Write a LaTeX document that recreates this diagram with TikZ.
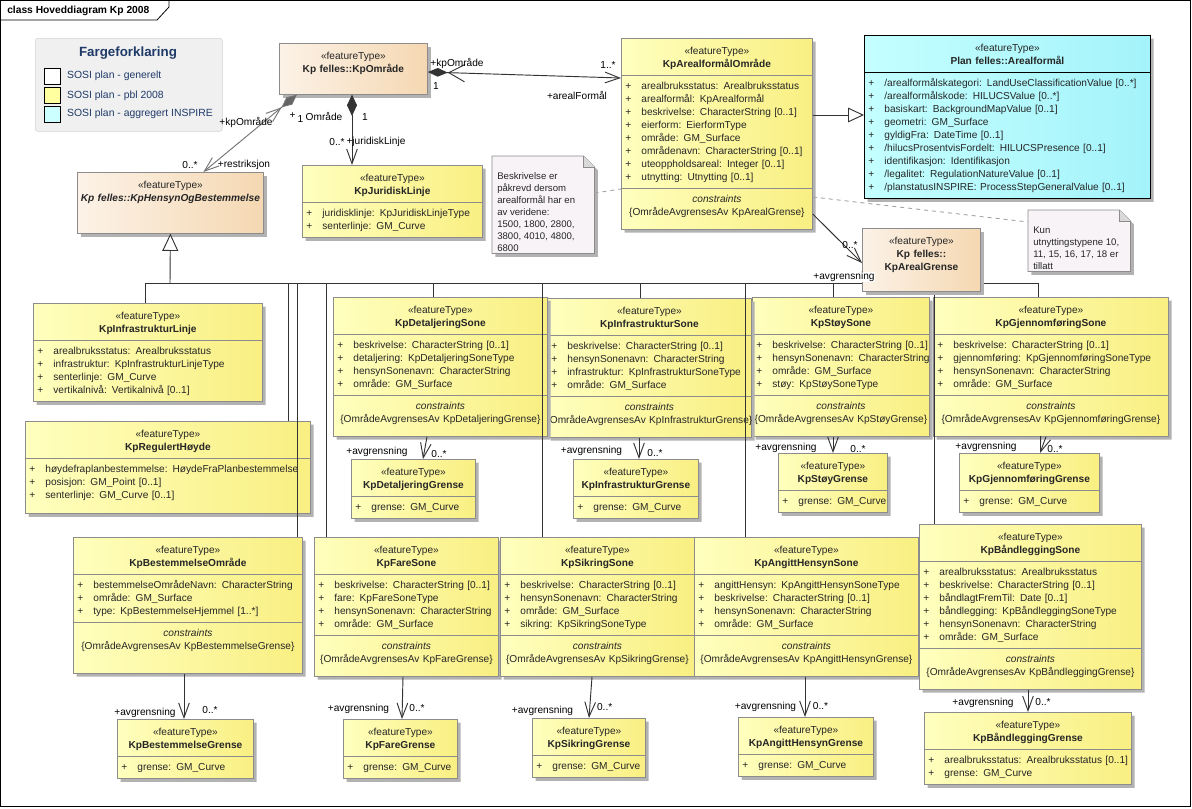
\documentclass[tikz,border=0pt]{standalone}
\usepackage{fontspec}
\setmainfont{Liberation Sans}
\usetikzlibrary{positioning, calc, arrows.meta, shapes.multipart, shadows}

\definecolor{yelL}{HTML}{FFFFBE}
\definecolor{yelR}{HTML}{F9EF82}
\definecolor{peaL}{HTML}{FCF2E7}
\definecolor{peaR}{HTML}{F5D8B2}
\definecolor{cyaL}{HTML}{C4FFFF}
\definecolor{cyaR}{HTML}{A4F3FA}
\definecolor{boxline}{HTML}{8C8C8C}
\definecolor{legnavy}{HTML}{1F3A68}
\definecolor{legyel}{HTML}{FFFFA0}
\definecolor{legcya}{HTML}{CCFFFF}
\definecolor{notefill}{HTML}{F7F3F7}

% class compartments
\newcommand{\ctrline}[1]{\makebox[\linewidth]{#1}}
\newcommand{\hd}[1]{\rule{0pt}{8.5pt}\ctrline{«featureType»}\par\ctrline{\bfseries #1}\rule[-3.2pt]{0pt}{3.2pt}}
\newcommand{\attrib}[1]{\strut\makebox[12pt][l]{+}\mbox{#1}\par}
\newcommand{\cons}[2][7.4pt]{\strut\ctrline{\itshape constraints}\par\ctrline{\{#2\}}\rule[-#1]{0pt}{#1}}
\newcommand{\padd}[1]{\rule[-#1]{0pt}{#1}}

\tikzset{
  uml/.style={rectangle split, rectangle split parts=#1, anchor=north west,
    draw=boxline, line width=0.6pt, inner xsep=3pt, inner ysep=3pt, align=left,
    text=black!85, font=\fontsize{7.6}{9.75}\selectfont,
    left color=yelL, right color=yelR,
    drop shadow={shadow xshift=2.5pt, shadow yshift=-2.5pt, fill=black!30, opacity=1}},
  felles/.style={uml=1, left color=peaL, right color=peaR},
  inspire/.style={uml=2, left color=cyaL, right color=cyaR, draw=black},
  conn/.style={draw=black!80, line width=0.7pt},
  assoc/.style={conn, -{Straight Barb[length=11pt,width=8pt]}},
  genarr/.style={conn, -{Triangle[length=13pt,width=12pt,fill=white]}},
  notelink/.style={draw=black!35, dashed, line width=0.7pt},
  lbl/.style={font=\fontsize{7.6}{9}\selectfont, inner sep=0.5pt},
  lblw/.style={lbl, fill=white},
  legend/.style={anchor=north west, minimum width=140.25pt, minimum height=69.75pt,
    rounded corners=2pt, fill=black!6, draw=black!18},
  legsq/.style={draw=black, line width=0.6pt, minimum size=12pt, inner sep=0pt},
  legtxt/.style={text=legnavy, font=\fontsize{7.8}{9}\selectfont, inner sep=2.5pt},
  notearea/.style={anchor=north west, inner sep=0pt},
  notebox/.style={draw=black!45, fill=notefill, line width=0.6pt,
    drop shadow={shadow xshift=2.5pt, shadow yshift=-2.5pt, fill=black!30, opacity=1}},
  notefold/.style={draw=black!45, fill=black!15, line width=0.6pt},
  notetext/.style={anchor=north west, align=left, inner sep=0pt,
    font=\fontsize{7.2}{9}\selectfont, text=black!85}
}

\begin{document}
\begin{tikzpicture}[x=0.75pt, y=-0.75pt]
    \useasboundingbox (0,0) rectangle (1192,808);

    % frame
    \draw[line width=0.6pt] (0.5,0.5) rectangle (1190.5,806.5);
    \draw[line width=0.6pt] (0.5,20) -- (157,20) -- (169,7) -- (169,0.5);
    \node[anchor=west, inner sep=0pt, font=\bfseries\fontsize{7.7}{9}\selectfont] (title) at (7,10.5) {class Hoveddiagram Kp 2008};

    % legend
    \node[legend] (legend) at (35,38) {};
    \node[font=\bfseries\fontsize{10}{12}\selectfont, text=legnavy] (legtitle) at (128,53) {Fargeforklaring};
    \node[legsq, fill=white] (sq1) at (52.5,76.3) {};
    \node[legsq, fill=legyel] (sq2) at (52.5,95.7) {};
    \node[legsq, fill=legcya] (sq3) at (52.5,114.2) {};
    \node[legtxt, right=2pt of sq1] (leg1) {SOSI plan - generelt};
    \node[legtxt, right=2pt of sq2] (leg2) {SOSI plan - pbl 2008};
    \node[legtxt, right=2pt of sq3] (leg3) {SOSI plan - aggregert INSPIRE};

    % top classes
    \node[felles, text width=105pt] (omr) at (279,43) {\hd{Kp felles::KpOmråde}\padd{13.25pt}};
    \node[felles, text width=133.5pt] (hensyn) at (77,172) {\hd{\itshape Kp felles::KpHensynOgBestemmelse}\padd{20.75pt}};
    \node[uml=2, text width=129pt] (jur) at (302,165) {\hd{KpJuridiskLinje}
        \nodepart{second}\attrib{juridisklinje: KpJuridiskLinjeType}\attrib{senterlinje: GM\_Curve}};
    \node[uml=3, text width=137.25pt] (arealOmr) at (621,38) {\hd{KpArealformålOmråde}
        \nodepart{second}\attrib{arealbruksstatus: Arealbruksstatus}\attrib{arealformål: KpArealformål}%
        \attrib{beskrivelse: CharacterString [0..1]}\attrib{eierform: EierformType}\attrib{område: GM\_Surface}%
        \attrib{områdenavn: CharacterString [0..1]}\attrib{uteoppholdsareal: Integer [0..1]}\attrib{utnytting: Utnytting [0..1]}
        \nodepart{third}\cons{OmrådeAvgrensesAv KpArealGrense}};
    \node[inspire, text width=208.5pt] (planAreal) at (864,35) {\hd{Plan felles::Arealformål}
        \nodepart{second}\attrib{/arealformålskategori: LandUseClassificationValue [0..*]}%
        \attrib{/arealformålskode: HILUCSValue [0..*]}\attrib{basiskart: BackgroundMapValue [0..1]}%
        \attrib{geometri: GM\_Surface}\attrib{gyldigFra: DateTime [0..1]}%
        \attrib{/hilucsProsentvisFordelt: HILUCSPresence [0..1]}\attrib{identifikasjon: Identifikasjon}%
        \attrib{/legalitet: RegulationNatureValue [0..1]}\attrib{/planstatusINSPIRE: ProcessStepGeneralValue [0..1]}};

    % notes
    \node[notearea, minimum width=76.5pt, minimum height=72.75pt] (note1) at (492,156) {};
    \draw[notebox] (note1.south west) |- ($(note1.north east)+(-11,0)$) -- ($(note1.north east)+(0,11)$) -- (note1.south east) -- cycle;
    \draw[notefold] ($(note1.north east)+(-11,0)$) |- ($(note1.north east)+(0,11)$);
    \node[notetext] (note1txt) at ($(note1.north west)+(5,15)$) {\strut Beskrivelse er\\påkrevd dersom\\arealformål har en\\av veridene:\\1500, 1800, 2800,\\3800, 4010, 4800,\\6800};

    \node[notearea, minimum width=76.5pt, minimum height=45.75pt] (note2) at (1028,210) {};
    \draw[notebox] (note2.south west) |- ($(note2.north east)+(-11,0)$) -- ($(note2.north east)+(0,11)$) -- (note2.south east) -- cycle;
    \draw[notefold] ($(note2.north east)+(-11,0)$) |- ($(note2.north east)+(0,11)$);
    \node[notetext] (note2txt) at ($(note2.north west)+(5,15)$) {\strut Kun\\utnyttingstypene 10,\\11, 15, 16, 17, 18 er\\tillatt};

    % middle row
    \node[uml=3, text width=170.25pt] (gjenSone) at (933,297) {\hd{KpGjennomføringSone}
        \nodepart{second}\attrib{beskrivelse: CharacterString [0..1]}\attrib{gjennomføring: KpGjennomføringSoneType}%
        \attrib{hensynSonenavn: CharacterString}\attrib{område: GM\_Surface}
        \nodepart{third}\cons{OmrådeAvgrensesAv KpGjennomføringGrense}};
    \node[uml=3, text width=126.75pt] (stoySone) at (752,297) {\hd{KpStøySone}
        \nodepart{second}\attrib{beskrivelse: CharacterString [0..1]}\attrib{hensynSonenavn: CharacterString}%
        \attrib{område: GM\_Surface}\attrib{støy: KpStøySoneType}
        \nodepart{third}\cons{OmrådeAvgrensesAv KpStøyGrense}};
    \node[uml=3, text width=147pt] (infSone) at (547,298) {\hd{KpInfrastrukturSone}
        \nodepart{second}\attrib{beskrivelse: CharacterString [0..1]}\attrib{hensynSonenavn: CharacterString}%
        \attrib{infrastruktur: KpInfrastrukturSoneType}\attrib{område: GM\_Surface}
        \nodepart{third}\cons{OmrådeAvgrensesAv KpInfrastrukturGrense}};
    \node[uml=3, text width=154.5pt] (detSone) at (333,297) {\hd{KpDetaljeringSone}
        \nodepart{second}\attrib{beskrivelse: CharacterString [0..1]}\attrib{detaljering: KpDetaljeringSoneType}%
        \attrib{hensynSonenavn: CharacterString}\attrib{område: GM\_Surface}
        \nodepart{third}\cons{OmrådeAvgrensesAv KpDetaljeringGrense}};
    \node[uml=2, text width=165.75pt] (infLinje) at (33,303) {\hd{KpInfrastrukturLinje}
        \nodepart{second}\attrib{arealbruksstatus: Arealbruksstatus}\attrib{infrastruktur: KpInfrastrukturLinjeType}%
        \attrib{senterlinje: GM\_Curve}\attrib{vertikalnivå: Vertikalnivå [0..1]}};
    \node[uml=2, text width=207.75pt] (regHoyde) at (25,421) {\hd{KpRegulertHøyde}
        \nodepart{second}\attrib{høydefraplanbestemmelse: HøydeFraPlanbestemmelse}\attrib{posisjon: GM\_Point [0..1]}%
        \attrib{senterlinje: GM\_Curve [0..1]\padd{8.2pt}}};

    \node[uml=2, text width=87pt] (detGrense) at (351,459) {\hd{KpDetaljeringGrense}\nodepart{second}\attrib{grense: GM\_Curve}};
    \node[uml=2, text width=87.75pt] (infGrense) at (573,459) {\hd{KpInfrastrukturGrense}\nodepart{second}\attrib{grense: GM\_Curve}};
    \node[uml=2, text width=75.75pt] (stoyGrense) at (778,453) {\hd{KpStøyGrense}\nodepart{second}\attrib{grense: GM\_Curve}};
    \node[uml=2, text width=99pt] (gjenGrense) at (959,453) {\hd{KpGjennomføringGrense}\nodepart{second}\attrib{grense: GM\_Curve}};

    % bottom row
    \node[uml=3, text width=165.75pt] (bestOmr) at (73,537) {\hd{KpBestemmelseOmråde}
        \nodepart{second}\attrib{bestemmelseOmrådeNavn: CharacterString}\attrib{område: GM\_Surface}%
        \attrib{type: KpBestemmelseHjemmel [1..*]}
        \nodepart{third}\cons[14.9pt]{OmrådeAvgrensesAv KpBestemmelseGrense}};
    \node[uml=3, text width=132pt] (fareSone) at (314,537) {\hd{KpFareSone}
        \nodepart{second}\attrib{beskrivelse: CharacterString [0..1]}\attrib{fare: KpFareSoneType}%
        \attrib{hensynSonenavn: CharacterString}\attrib{område: GM\_Surface}
        \nodepart{third}\cons{OmrådeAvgrensesAv KpFareGrense}};
    \node[uml=3, text width=139.5pt] (sikSone) at (500,537) {\hd{KpSikringSone}
        \nodepart{second}\attrib{beskrivelse: CharacterString [0..1]}\attrib{hensynSonenavn: CharacterString}%
        \attrib{område: GM\_Surface}\attrib{sikring: KpSikringSoneType}
        \nodepart{third}\cons{OmrådeAvgrensesAv KpSikringGrense}};
    \node[uml=3, text width=162pt] (angSone) at (694,537) {\hd{KpAngittHensynSone}
        \nodepart{second}\attrib{angittHensyn: KpAngittHensynSoneType}\attrib{beskrivelse: CharacterString [0..1]}%
        \attrib{hensynSonenavn: CharacterString}\attrib{område: GM\_Surface}
        \nodepart{third}\cons{OmrådeAvgrensesAv KpAngittHensynGrense}};
    \node[uml=3, text width=160.5pt] (baandSone) at (919,524) {\hd{KpBåndleggingSone}
        \nodepart{second}\attrib{arealbruksstatus: Arealbruksstatus}\attrib{beskrivelse: CharacterString [0..1]}%
        \attrib{båndlagtFremTil: Date [0..1]}\attrib{båndlegging: KpBåndleggingSoneType}%
        \attrib{hensynSonenavn: CharacterString}\attrib{område: GM\_Surface}
        \nodepart{third}\cons{OmrådeAvgrensesAv KpBåndleggingGrense}};

    \node[uml=2, text width=96pt] (bestGrense) at (117,719) {\hd{KpBestemmelseGrense}\nodepart{second}\attrib{grense: GM\_Curve}};
    \node[uml=2, text width=79.5pt] (fareGrense) at (343,719) {\hd{KpFareGrense}\nodepart{second}\attrib{grense: GM\_Curve}};
    \node[uml=2, text width=78.75pt] (sikGrense) at (532,718) {\hd{KpSikringGrense}\nodepart{second}\attrib{grense: GM\_Curve}};
    \node[uml=2, text width=95.25pt] (angGrense) at (738,717) {\hd{KpAngittHensynGrense}\nodepart{second}\attrib{grense: GM\_Curve}};
    \node[uml=2, text width=149.25pt] (baandGrense) at (924,712) {\hd{KpBåndleggingGrense}
        \nodepart{second}\attrib{arealbruksstatus: Arealbruksstatus [0..1]}\attrib{grense: GM\_Curve}};

    % generalization tree
    \coordinate (bus) at (170,283);
    \draw[conn] (bus -| 145,0) -- (bus -| 1038,0);
    \draw[genarr] (bus) -- (hensyn.south);
    \foreach \x/\sub in {145/infLinje, 288/regHoyde, 297/bestOmr, 326/fareSone, 433/detSone, 542/sikSone,
        640/infSone, 745/angSone, 833/stoySone, 934/baandSone, 1038/gjenSone}
        \draw[conn] (bus -| \x,0) -- (\x,0 |- \sub.north);

    \node[felles, text width=82.5pt] (arealGrense) at (862,228) {\rule{0pt}{8.5pt}\ctrline{«featureType»}\par\ctrline{\bfseries Kp felles::}\par\ctrline{\bfseries KpArealGrense}\padd{12.5pt}};

    % associations
    \draw[conn, {Diamond[length=15pt,width=6.5pt] Straight Barb[length=12pt,width=13pt]}-{Straight Barb[length=11pt,width=8pt]}] (omr.east |- 0,72) -- (arealOmr.west |- 0,78);
    \draw[conn, draw=black!55, {Diamond[length=15pt,width=7pt,fill=black!60] Straight Barb[length=11pt,width=8pt]}-{Straight Barb[length=11pt,width=8pt]}] ($(omr.south west)+(18,0)$) -- ($(hensyn.north)+(33,0)$);
    \draw[conn, {Diamond[length=16pt,width=7.5pt]}-{Straight Barb[length=11pt,width=8pt]}] (omr.south -| 352,0) -- (352,0 |- jur.north);
    \draw[conn, -{Triangle[length=12pt,width=11pt,fill=white]}] (arealOmr.east |- 0,115) -- (planAreal.west |- 0,115);
    \draw[assoc] (arealOmr.east |- 0,214) -- (arealGrense.west |- 0,263);
    \draw[notelink] (note1.east |- 0,193) -- (arealOmr.west |- 0,189);
    \draw[notelink] (arealOmr.east |- 0,197) -- (note2.west |- 0,222);

    \foreach \s/\g/\xa/\xb in {detSone/detGrense/427/423, infSone/infGrense/639/639, stoySone/stoyGrense/833/833,
        gjenSone/gjenGrense/1046/1040, bestOmr/bestGrense/184/184, fareSone/fareGrense/403/402,
        sikSone/sikGrense/592/589, angSone/angGrense/805/805, baandSone/baandGrense/1028/1028}
        \draw[assoc] (\s.south -| \xa,0) -- (\g.north -| \xb,0);

    % role and multiplicity labels
    \node[lbl] (rKpOmr1) at (457,63) {+kpOmråde};
    \node[lbl] (mOne1) at (436,86) {1};
    \node[lbl] (mArealF) at (608,65) {1..*};
    \node[lbl] (rArealF) at (577,95) {+arealFormål};
    \node[lbl] (rKpOmr2) at (246,122) {+kpOmråde};
    \node[lbl] (mRestr) at (190,165) {0..*};
    \node[lbl] (rRestr) at (244,165) {+restriksjon};
    \node[lbl] (rPlus3) at (292.5,116) {+};
    \node[lbl] (mOne2) at (300.5,119) {1};
    \node[lbl] (rKpOmr3) at (324,116) {Område};
    \node[lbl] (mOne3) at (365,117) {1};
    \node[lbl] (mJur) at (337,142) {0..*};
    \node[lbl] (rJur) at (376,142) {+juridiskLinje};
    \node[lbl] (mArealG) at (850,245) {0..*};
    \node[lblw] (rArealG) at (844,277) {+avgrensning};

    \foreach [count=\i] \x/\y in {377/452, 591.5/451, 786/448, 986/447, 145/713, 358.5/709, 542.5/711, 765.5/707, 983/703}
        \node[lbl] (avg\i) at (\x,\y) {+avgrensning};
    \foreach [count=\i] \x/\y in {439/454, 655/453, 858/449, 1055/449, 210/710, 417/708, 604.7/707, 820.5/706, 1043/702}
        \node[lblw] (mul\i) at (\x,\y) {0..*};
\end{tikzpicture}
\end{document}
